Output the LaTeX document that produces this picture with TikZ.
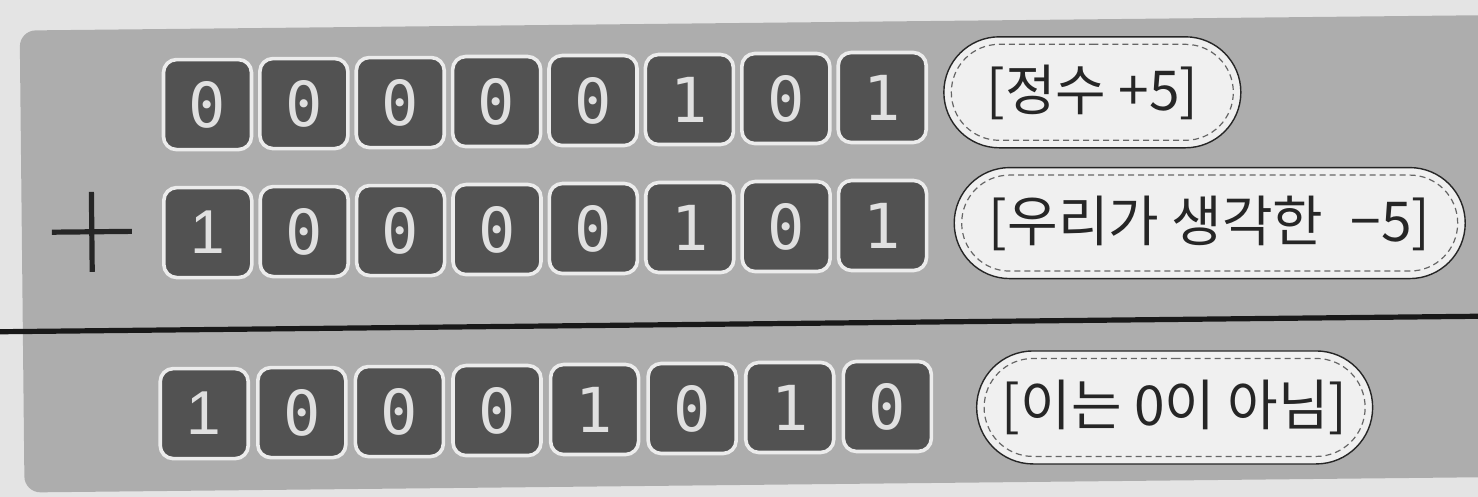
\documentclass[tikz,border=0pt]{standalone}
\usepackage{fontspec}
\setmainfont{Noto Sans CJK KR}
\newfontfamily\digitfont{DejaVu Sans Mono}
\newfontfamily\signfont{Liberation Sans}
\usetikzlibrary{shapes.misc}
\definecolor{pagebg}{HTML}{E4E4E4}
\definecolor{panelbg}{HTML}{ADADAD}
\definecolor{bitfill}{HTML}{525252}
\definecolor{bitedge}{HTML}{ECECEC}
\definecolor{bubblefill}{HTML}{F0F0F0}
\definecolor{inkdark}{HTML}{262626}
\newcommand{\bitdigit}[1]{\digitfont\fontsize{31}{31}\selectfont #1}
\newcommand{\signdigit}[1]{\signfont\fontsize{31}{31}\selectfont #1}
\tikzset{
  bit/.style={rectangle, rounded corners=6.5pt, fill=bitfill, draw=bitedge,
    line width=1.8pt, minimum width=44pt, minimum height=45pt, inner sep=0pt,
    text=bitedge!95!black},
  bubbleout/.style={rounded rectangle, fill=bubblefill, draw=inkdark,
    line width=0.7pt, inner sep=0pt},
  bubblein/.style={rounded rectangle, draw=black!60, dash pattern=on 3pt off 2pt,
    line width=0.6pt, inner sep=0pt, text=inkdark, font=\fontsize{27.5}{27.5}\selectfont},
  sumline/.style={line width=2.6pt, draw=black!90},
  plusline/.style={line width=2.6pt, draw=inkdark},
}
\begin{document}
\begin{tikzpicture}[x=0.5pt,y=-0.5pt]
\useasboundingbox (0,0) rectangle (1478,497);
\fill[pagebg] (0,0) rectangle (1478,497);
\begin{scope}[rotate around={0.6:(740,250)}]
  \fill[panelbg, rounded corners=8pt] (22,23) rectangle (1540,485);
  % row 1
  \foreach \b [count=\i from 0] in {0,0,0,0,0,1,0,1}
    \node[bit] (ra\i) at ({209+96.4*\i},99) {\bitdigit{\b}};
  % row 2
  \node[bit] (rb0) at (208,227) {\signdigit{1}};
  \foreach \b [count=\i from 1] in {0,0,0,0,1,0,1}
    \node[bit] (rb\i) at ({208+96.4*\i},227) {\bitdigit{\b}};
  % row 3
  \node[bit] (rc0) at (202.5,408) {\signdigit{1}};
  \foreach \b [count=\i from 1] in {0,0,0,1,0,1,0}
    \node[bit] (rc\i) at ({202.5+97.6*\i},408) {\bitdigit{\b}};
  % plus sign
  \coordinate (pc) at (92,225);
  \draw[plusline] ([xshift=-20pt]pc) -- ([xshift=20pt]pc);
  \draw[plusline] ([yshift=-20pt]pc) -- ([yshift=20pt]pc);
  % sum line
  \coordinate (la) at (-30,324);
  \coordinate (lb) at (1540,324);
  \draw[sumline] (la) -- (lb);
  % bubbles
  \node[bubbleout, minimum width=148.5pt, minimum height=55.5pt] (ba) at (1094,96) {};
  \node[bubblein, minimum width=141pt, minimum height=48pt] (ta) at (ba) {[정수 +5]};
  \node[bubbleout, minimum width=255.5pt, minimum height=55.5pt] (bb) at (1210,228) {};
  \node[bubblein, minimum width=248pt, minimum height=48pt] (tb) at (bb) {[우리가 생각한\hspace{0.5em}−5]};
  \node[bubbleout, minimum width=198pt, minimum height=56.5pt] (bc) at (1173,412) {};
  \node[bubblein, minimum width=190.5pt, minimum height=49pt] (tc) at (bc) {[이는 0이 아님]};
\end{scope}
\end{tikzpicture}
\end{document}
